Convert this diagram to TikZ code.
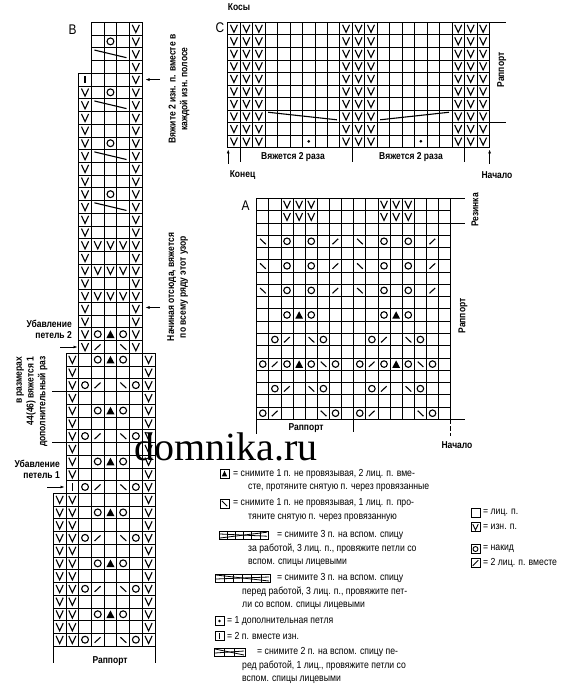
\documentclass[tikz,border=0pt]{standalone}
\usepackage{fontspec}
\setmainfont{Liberation Sans}[FakeStretch=0.85]
\newfontfamily\wmfont{Liberation Serif}
\usetikzlibrary{arrows.meta}

\newcommand\kcell[2]{\pgfmathsetmacro\kx{\gx+(#1)*\gw}\pgfmathsetmacro\ky{\gy+((#2)-1)*\gh}}
\newcommand\kV[2]{\kcell{#1}{#2}\draw[ksym] (\kx+0.22*\gw,\ky+0.2*\gh) -- (\kx+0.5*\gw,\ky+0.8*\gh) -- (\kx+0.78*\gw,\ky+0.2*\gh);}
\newcommand\kO[2]{\kcell{#1}{#2}\pgfmathsetmacro\kr{0.27*\gw}\draw[ksym] (\kx+0.5*\gw,\ky+0.5*\gh) circle[radius=\kr pt];}
\newcommand\kT[2]{\kcell{#1}{#2}\fill (\kx+0.18*\gw,\ky+0.8*\gh) -- (\kx+0.82*\gw,\ky+0.8*\gh) -- (\kx+0.5*\gw,\ky+0.2*\gh) -- cycle;}
\newcommand\kS[2]{\kcell{#1}{#2}\draw[ksym] (\kx+0.25*\gw,\ky+0.74*\gh) -- (\kx+0.72*\gw,\ky+0.3*\gh);}
\newcommand\kB[2]{\kcell{#1}{#2}\draw[ksym] (\kx+0.28*\gw,\ky+0.3*\gh) -- (\kx+0.75*\gw,\ky+0.74*\gh);}
\newcommand\kI[2]{\kcell{#1}{#2}\draw[ksym,line width=1.4pt] (\kx+0.5*\gw,\ky+0.2*\gh) -- (\kx+0.5*\gw,\ky+0.8*\gh);}
\newcommand\kD[2]{\kcell{#1}{#2}\fill (\kx+0.5*\gw,\ky+0.5*\gh) circle[radius=1.5pt];}
% cable falling / rising: cols #1..#2 in row #3
\newcommand\kCd[3]{\kcell{#1}{#3}\pgfmathsetmacro\kxe{\gx+((#2)+1)*\gw}\draw[ksym] (\kx+3,\ky+0.18*\gh) -- (\kxe-3,\ky+0.78*\gh);}
\newcommand\kCu[3]{\kcell{#1}{#3}\pgfmathsetmacro\kxe{\gx+((#2)+1)*\gw}\draw[ksym] (\kx+3,\ky+0.78*\gh) -- (\kxe-3,\ky+0.18*\gh);}
% grid block: col boundaries #1..#2, rows #3..#4
\newcommand\kgrid[4]{%
  \pgfmathtruncatemacro\krs{#3-1}%
  \foreach \ii in {#1,...,#2}{\draw[gl] (\gx+\ii*\gw,\gy+\krs*\gh) -- (\gx+\ii*\gw,\gy+#4*\gh);}
  \foreach \jj in {\krs,...,#4}{\draw[gl] (\gx+#1*\gw,\gy+\jj*\gh) -- (\gx+#2*\gw,\gy+\jj*\gh);}
}

\begin{document}
\begin{tikzpicture}[x=1pt,y=-1pt,
  gl/.style={line width=0.7pt},
  ksym/.style={line width=1.1pt},
  thin/.style={line width=0.6pt},
  arr/.style={line width=0.6pt,-{Latex[length=4pt,width=3pt]}},
  lbl/.style={font=\bfseries\fontsize{10}{11.8}\selectfont,inner sep=0pt},
  leg/.style={font=\fontsize{10.2}{11.5}\selectfont,inner sep=0pt,anchor=west},
  ttl/.style={font=\fontsize{14}{14}\selectfont,inner sep=0pt},
  lbox/.style={line width=0.8pt}]
\useasboundingbox (0,0) rectangle (565,700);

%================ Chart B =================
\def\gx{53.3}\def\gy{22.3}\def\gw{12.7}\def\gh{12.73}
\kgrid{3}{7}{1}{4}
\kgrid{2}{7}{5}{26}
\kgrid{1}{8}{27}{37}
\kgrid{0}{8}{38}{49}
\foreach \r in {1,...,26}{\kV{6}{\r}}
\foreach \r in {6,...,26}{\kV{2}{\r}}
\foreach \r in {18,20,22}{\foreach \q in {3,4,5}{\kV{\q}{\r}}}
\foreach \r in {27,...,36,38,39,...,49}{\kV{1}{\r}}
\foreach \r in {27,...,49}{\kV{7}{\r}}
\foreach \r in {38,...,49}{\kV{0}{\r}}
\foreach \r in {2,6,10,14}{\kO{4}{\r}}
\foreach \r in {3,7,11,15}{\kCd{3}{5}{\r}}
\kI{2}{5}\kI{1}{37}
\kO{3}{25}\kT{4}{25}\kO{5}{25}
\kS{3}{26}\kB{5}{26}
\foreach \r in {27,31,35,39,43,47}{\kO{3}{\r}\kT{4}{\r}\kO{5}{\r}}
\foreach \r in {29,33,37,41,45,49}{\kO{2}{\r}\kS{3}{\r}\kB{5}{\r}\kO{6}{\r}}

\node[ttl] (tB) at (72.5,30) {B};
% bottom
\coordinate (bl1) at (53.3,646.1); \coordinate (bl2) at (53.3,663);
\coordinate (br1) at (154.9,646.1); \coordinate (br2) at (154.9,663);
\draw[thin] (bl1) -- (bl2); \draw[thin] (br1) -- (br2);
\node[lbl] (rB) at (110,661) {Раппорт};
% right annotations
\coordinate (ra1) at (160,79.6); \coordinate (ra1e) at (145.5,79.6);
\draw[arr] (ra1) -- (ra1e);
\node[lbl,rotate=90,align=center] (nB1) at (179,89) {Вяжите 2 изн. п. вместе в\\каждой изн. полосе};
\coordinate (ra2) at (160,307.5); \coordinate (ra2e) at (145.5,307.5);
\draw[arr] (ra2) -- (ra2e);
\node[lbl,rotate=90,align=center] (nB2) at (177.5,287) {Начиная отсюда, вяжется\\по всему ряду этот узор};
% left annotations
\node[lbl,anchor=east] (u2a) at (72,323.5) {Убавление};
\node[lbl,anchor=east] (u2b) at (72,335.5) {петель 2};
\coordinate (la2) at (60,347); \coordinate (la2e) at (77.5,347);
\draw[arr] (la2) -- (la2e);
\node[lbl,rotate=90,align=right,anchor=east] (nB3) at (32,356.5) {в размерах\\44(46) вяжется 1\\дополнительный раз};
\coordinate (t1a) at (52,391.5); \coordinate (t1b) at (66,391.5);
\coordinate (t2a) at (52,442.4); \coordinate (t2b) at (66,442.4);
\draw[thin] (t1a) -- (t1b); \draw[thin] (t2a) -- (t2b);
\node[lbl,anchor=east] (u1a) at (60,463.5) {Убавление};
\node[lbl,anchor=east] (u1b) at (60,475.5) {петель 1};
\coordinate (la1) at (47,487); \coordinate (la1e) at (64.5,487);
\draw[arr] (la1) -- (la1e);

%================ Chart C =================
\def\gx{227.7}\def\gy{22.3}\def\gw{12.46}\def\gh{12.53}
\kgrid{0}{21}{1}{10}
\foreach \q in {0,1,2,9,10,11,18,19,20}{\foreach \r in {1,...,10}{\kV{\q}{\r}}}
\kCd{3}{8}{8}
\kCu{12}{17}{8}
\kD{6}{10}\kD{15}{10}
\node[ttl] (tC) at (220,28) {C};
\node[lbl] (kosy) at (239,7.5) {Косы};
\coordinate (cr1) at (489.4,22.3); \coordinate (cr1e) at (506,22.3);
\coordinate (cr2) at (489.4,122.5); \coordinate (cr2e) at (506,122.5);
\draw[thin] (cr1) -- (cr1e); \draw[thin] (cr2) -- (cr2e);
\node[lbl,rotate=90] (rC) at (501.7,70) {Раппорт};
\coordinate (ca1) at (228.2,164); \coordinate (ca1e) at (228.2,149.5);
\coordinate (ca2) at (489.6,164); \coordinate (ca2e) at (489.6,149.5);
\draw[arr] (ca1) -- (ca1e); \draw[arr] (ca2) -- (ca2e);
\foreach \xx in {240.2,352.3,464.4}{\draw[thin] (\xx,147.6) -- (\xx,162);}
\node[lbl] (v1) at (293,157) {Вяжется 2 раза};
\node[lbl] (v2) at (411,157) {Вяжется 2 раза};
\node[lbl] (kon) at (242.5,175) {Конец};
\node[lbl] (nac1) at (497,175) {Начало};

%================ Chart A =================
\def\gx{256.7}\def\gy{198.3}\def\gw{12.125}\def\gh{12.28}
\kgrid{0}{16}{1}{18}
\foreach \q in {2,3,4,10,11,12}{\kV{\q}{1}\kV{\q}{2}}
\foreach \r in {4,6,8}{\kB{0}{\r}\kO{2}{\r}\kO{4}{\r}\kS{6}{\r}\kB{8}{\r}\kO{10}{\r}\kO{12}{\r}\kS{14}{\r}}
\kO{2}{10}\kT{3}{10}\kO{4}{10}\kO{10}{10}\kT{11}{10}\kO{12}{10}
\foreach \r in {12,16}{\kO{1}{\r}\kS{2}{\r}\kB{4}{\r}\kO{5}{\r}\kO{9}{\r}\kS{10}{\r}\kB{12}{\r}\kO{13}{\r}}
\kO{0}{14}\kS{1}{14}\kO{2}{14}\kT{3}{14}\kO{4}{14}\kB{5}{14}\kO{6}{14}
\kO{8}{14}\kS{9}{14}\kO{10}{14}\kT{11}{14}\kO{12}{14}\kB{13}{14}\kO{14}{14}
\kO{0}{18}\kS{1}{18}\kB{5}{18}\kO{6}{18}\kO{8}{18}\kS{9}{18}\kB{13}{18}\kO{14}{18}
\node[ttl] (tA) at (245.5,206) {A};
\foreach \yy in {198.3,222.86,419.3}{\draw[thin] (450.7,\yy) -- (465,\yy);}
\node[lbl,rotate=90] (rez) at (475,210) {Резинка};
\node[lbl,rotate=90] (rA) at (463,316) {Раппорт};
\draw[thin] (256.7,419.3) -- (256.7,434);
\draw[thin] (353.7,419.3) -- (353.7,432);
\draw[thin,dash pattern=on 5pt off 2pt] (450.7,419.3) -- (450.7,436);
\node[lbl] (rA2) at (306,428.5) {Раппорт};
\node[lbl] (nac2) at (457,445) {Начало};

%================ Watermark =================
\node[anchor=base west,inner sep=0pt,font=\wmfont\fontsize{40}{40}\selectfont] (wm) at (134,460) {domnika.ru};

%================ Legend (left) =================
% item 1
\draw[lbox] (220,469) rectangle (229,478);
\fill (221.8,476.3) -- (227.2,476.3) -- (224.5,470.7) -- cycle;
\node[leg] (l1a) at (233,473.5) {= снимите 1 п. не провязывая, 2 лиц. п. вме-};
\node[leg] (l1b) at (248,487.5) {сте, протяните снятую п. через провязанные};
% item 2
\draw[lbox] (220,499) rectangle (229,508);
\draw[line width=0.9pt] (221.8,500.8) -- (227.2,506.2);
\node[leg] (l2a) at (233,503.5) {= снимите 1 п. не провязывая, 1 лиц. п. про-};
\node[leg] (l2b) at (248,518) {тяните снятую п. через провязанную};
% item 3 cable behind
\draw[lbox] (219,531) rectangle (268,539);
\foreach \xx in {227.2,235.3,243.5,251.7,259.8}{\draw[line width=0.6pt] (\xx,531) -- (\xx,539);}
\draw[line width=0.8pt] (220,538) -- (267,532.2);
\draw[line width=0.8pt] (220,534) -- (267,536.2);
\node[leg] (l3a) at (277,535) {= снимите 3 п. на вспом. спицу};
\node[leg] (l3b) at (248,549) {за работой, 3 лиц. п., провяжите петли со};
\node[leg] (l3c) at (248,563) {вспом. спицы лицевыми};
% item 4 cable front
\draw[lbox] (215,574) rectangle (270,582);
\foreach \xx in {224.2,233.3,242.5,251.7,260.8}{\draw[line width=0.6pt] (\xx,574) -- (\xx,582);}
\draw[line width=0.8pt] (216,575) -- (269,581);
\draw[line width=0.8pt] (216,579) -- (269,577);
\node[leg] (l4a) at (277,578) {= снимите 3 п. на вспом. спицу};
\node[leg] (l4b) at (242,592) {перед работой, 3 лиц. п., провяжите пет-};
\node[leg] (l4c) at (242,606) {ли со вспом. спицы лицевыми};
% item 5 dot
\draw[lbox] (215,616.5) rectangle (224,625.5);
\fill (219.5,621) circle[radius=1.4pt];
\node[leg] (l5) at (227,621) {= 1 дополнительная петля};
% item 6 I
\draw[lbox] (215,631.5) rectangle (224,640.5);
\draw[line width=1.2pt] (219.5,633.2) -- (219.5,638.8);
\node[leg] (l6) at (227,636) {= 2 п. вместе изн.};
% item 7 cable 2
\draw[lbox] (214,648) rectangle (245,656);
\foreach \xx in {224.3,234.7}{\draw[line width=0.6pt] (\xx,648) -- (\xx,656);}
\draw[line width=0.8pt] (215,649) -- (244,655);
\draw[line width=0.8pt] (215,653) -- (244,651);
\node[leg] (l7a) at (257,652) {= снимите 2 п. на вспом. спицу пе-};
\node[leg] (l7b) at (242,666) {ред работой, 1 лиц., провяжите петли со};
\node[leg] (l7c) at (242,680) {вспом. спицы лицевыми};

%================ Legend (right) =================
\def\bxl{471}\def\bxr{480}\def\bxc{475.5}\def\txl{483}
\draw[lbox] (\bxl,508.5) rectangle (\bxr,517.5);
\node[leg] (r1) at (\txl,513) {= лиц. п.};
\draw[lbox] (\bxl,522.5) rectangle (\bxr,531.5);
\draw[line width=0.9pt] (\bxl+1.8,524.2) -- (\bxc,530) -- (\bxr-1.8,524.2);
\node[leg] (r2) at (\txl,527) {= изн. п.};
\draw[lbox] (\bxl,544.5) rectangle (\bxr,553.5);
\draw[line width=0.9pt] (\bxc,549) circle[radius=2.5pt];
\node[leg] (r3) at (\txl,549) {= накид};
\draw[lbox] (\bxl,558.5) rectangle (\bxr,567.5);
\draw[line width=0.9pt] (\bxl+1.8,565.8) -- (\bxr-1.8,560.2);
\node[leg] (r4) at (\txl,563) {= 2 лиц. п. вместе};
\end{tikzpicture}
\end{document}
